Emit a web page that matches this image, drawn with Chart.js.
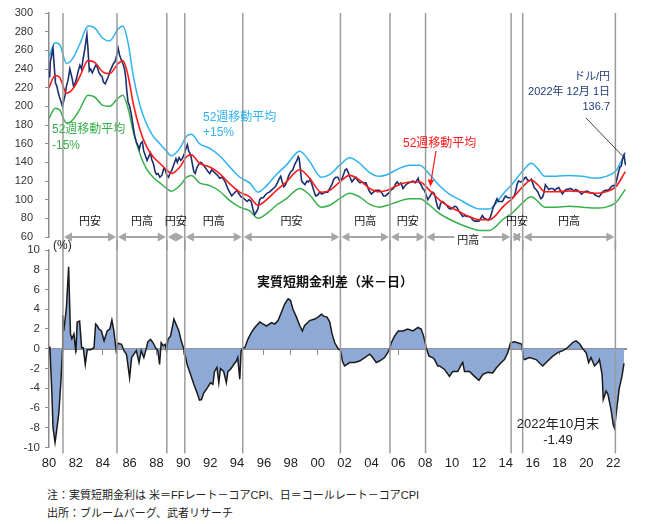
<!DOCTYPE html>
<html>
<head>
<meta charset="utf-8">
<script src="https://cdn.jsdelivr.net/npm/chart.js@4.4.0/dist/chart.umd.min.js"></script>
<style>
  body { margin: 0; background: #fff; }
  #wrap { position: relative; width: 651px; height: 524px; font-family: 'Liberation Sans', 'Noto Sans CJK JP', sans-serif; }
  canvas { position: absolute; left: 0; }
  .t { position: absolute; white-space: nowrap; }
</style>
</head>
<body>
<div id="wrap">
  <canvas id="fx" width="651" height="250" style="top:0"></canvas>
  <canvas id="diff" width="651" height="240" style="top:240px"></canvas>

  <div class="t" style="left:203px;top:110px;font-size:12px;line-height:15px;color:#2fb2ef">52週移動平均<br>+15%</div>
  <div class="t" style="left:52px;top:121px;font-size:12px;line-height:16px;color:#36b04a">52週移動平均<br>-15%</div>
  <div class="t" style="left:403px;top:135px;font-size:12px;line-height:16px;color:#ff1a1a">52週移動平均</div>
  <div class="t" style="right:41px;top:69px;font-size:11px;line-height:15px;color:#1f3b78;text-align:right">ドル/円<br>2022年 12月 1日<br>136.7</div>
  <div class="t" style="left:53px;top:238px;font-size:12px;line-height:14px;color:#222">(%)</div>
  <div class="t" style="left:235px;top:273px;width:200px;text-align:center;font-size:13px;line-height:17px;font-weight:bold;color:#111">実質短期金利差（米－日）</div>
  <div class="t" style="left:498px;top:416px;width:120px;text-align:center;font-size:13px;line-height:16px;color:#222">2022年10月末<br>-1.49</div>
  <div class="t" style="left:47px;top:486px;font-size:11px;line-height:18px;color:#222">注：実質短期金利は 米＝FFレート－コアCPI、日＝コールレート－コアCPI<br>出所：ブルームバーグ、武者リサーチ</div>
</div>

<script>
// ドル/円 (週次の読み取り値)
const spotYears = [
  1980.00, 1980.05, 1980.10, 1980.20, 1980.30, 1980.38, 1980.48, 1980.58, 1980.68, 1980.78, 1980.90,
  1981.00, 1981.08, 1981.20, 1981.30, 1981.42, 1981.55, 1981.62, 1981.72, 1981.82, 1981.95,
  1982.05, 1982.18, 1982.30, 1982.42, 1982.55, 1982.65, 1982.75, 1982.82, 1982.90,
  1983.00, 1983.10, 1983.22, 1983.35, 1983.48, 1983.60, 1983.72, 1983.85, 1983.95,
  1984.05, 1984.18, 1984.30, 1984.42, 1984.55, 1984.68, 1984.80, 1984.92,
  1985.05, 1985.15, 1985.25, 1985.38, 1985.50, 1985.62, 1985.72, 1985.78, 1985.88,
  1986.00, 1986.12, 1986.25, 1986.38, 1986.50, 1986.62, 1986.72, 1986.82, 1986.95,
  1987.05, 1987.18, 1987.30, 1987.42, 1987.55, 1987.65, 1987.78, 1987.90,
  1988.00, 1988.12, 1988.25, 1988.40, 1988.55, 1988.65, 1988.78, 1988.90,
  1989.00, 1989.15, 1989.30, 1989.45, 1989.55, 1989.68, 1989.80, 1989.92,
  1990.05, 1990.20, 1990.30, 1990.40, 1990.55, 1990.65, 1990.78, 1990.88,
  1991.00, 1991.15, 1991.30, 1991.45, 1991.55, 1991.70, 1991.85, 1991.97,
  1992.10, 1992.25, 1992.40, 1992.55, 1992.70, 1992.85,
  1993.00, 1993.15, 1993.30, 1993.45, 1993.60, 1993.72, 1993.85,
  1994.00, 1994.15, 1994.30, 1994.45, 1994.60, 1994.75, 1994.90,
  1995.05, 1995.18, 1995.30, 1995.40, 1995.55, 1995.68, 1995.80, 1995.95,
  1996.10, 1996.25, 1996.40, 1996.55, 1996.70, 1996.85,
  1997.00, 1997.12, 1997.25, 1997.38, 1997.48, 1997.60, 1997.72, 1997.85,
  1998.00, 1998.15, 1998.30, 1998.45, 1998.55, 1998.62, 1998.72, 1998.80, 1998.92,
  1999.05, 1999.20, 1999.32, 1999.45, 1999.58, 1999.70, 1999.85,
  2000.00, 2000.15, 2000.30, 2000.45, 2000.60, 2000.75, 2000.90,
  2001.05, 2001.20, 2001.35, 2001.50, 2001.65, 2001.80, 2001.95,
  2002.05, 2002.15, 2002.25, 2002.40, 2002.55, 2002.70, 2002.85,
  2003.00, 2003.15, 2003.30, 2003.45, 2003.60, 2003.70, 2003.85,
  2004.00, 2004.15, 2004.30, 2004.45, 2004.60, 2004.75, 2004.90,
  2005.05, 2005.20, 2005.35, 2005.50, 2005.65, 2005.80, 2005.92,
  2006.05, 2006.20, 2006.35, 2006.50, 2006.65, 2006.80, 2006.95,
  2007.10, 2007.25, 2007.40, 2007.48, 2007.58, 2007.70, 2007.82, 2007.95,
  2008.05, 2008.20, 2008.33, 2008.45, 2008.58, 2008.70, 2008.82, 2008.95,
  2009.05, 2009.15, 2009.30, 2009.45, 2009.60, 2009.75, 2009.90,
  2010.05, 2010.20, 2010.35, 2010.50, 2010.65, 2010.80, 2010.95,
  2011.10, 2011.25, 2011.40, 2011.55, 2011.70, 2011.85,
  2012.00, 2012.15, 2012.25, 2012.40, 2012.55, 2012.70, 2012.85, 2012.95,
  2013.08, 2013.20, 2013.35, 2013.45, 2013.60, 2013.75, 2013.90,
  2014.00, 2014.15, 2014.30, 2014.45, 2014.60, 2014.72, 2014.85, 2014.95,
  2015.10, 2015.25, 2015.40, 2015.50, 2015.62, 2015.75, 2015.90,
  2016.00, 2016.12, 2016.25, 2016.40, 2016.50, 2016.62, 2016.75, 2016.85, 2016.95,
  2017.05, 2017.20, 2017.35, 2017.50, 2017.65, 2017.80, 2017.95,
  2018.10, 2018.22, 2018.35, 2018.50, 2018.65, 2018.80, 2018.95,
  2019.05, 2019.20, 2019.35, 2019.50, 2019.65, 2019.80, 2019.95,
  2020.10, 2020.22, 2020.35, 2020.50, 2020.65, 2020.80, 2020.95,
  2021.10, 2021.25, 2021.40, 2021.55, 2021.70, 2021.85, 2021.98,
  2022.10, 2022.20, 2022.30, 2022.40, 2022.50, 2022.60, 2022.70, 2022.80, 2022.88, 2022.92
];
const spotRate = [
  238, 231, 248, 255, 262, 245, 225, 222, 215, 210, 205,
  200, 205, 212, 222, 228, 240, 236, 230, 222, 225,
  230, 238, 244, 240, 252, 260, 270, 277, 262,
  238, 240, 236, 240, 244, 242, 236, 233, 232,
  226, 224, 228, 232, 238, 242, 246, 248,
  255, 262, 255, 250, 246, 240, 230, 218, 205,
  200, 192, 180, 168, 162, 158, 154, 160, 162,
  152, 147, 142, 146, 150, 143, 138, 130,
  127, 128, 124, 126, 134, 132, 126, 124,
  128, 132, 138, 144, 140, 145, 142, 144,
  148, 155, 159, 152, 148, 140, 130, 128,
  134, 138, 140, 138, 136, 133, 130, 128,
  132, 130, 128, 126, 123, 124,
  122, 118, 112, 108, 104, 106, 108,
  110, 106, 103, 102, 100, 98, 100,
  98, 90, 84, 86, 90, 100, 102, 102,
  105, 107, 108, 110, 112, 114,
  118, 122, 125, 118, 114, 116, 120, 126,
  130, 132, 138, 142, 146, 144, 132, 120, 118,
  116, 120, 119, 122, 116, 110, 104,
  105, 108, 106, 107, 108, 108, 112,
  116, 122, 124, 124, 120, 122, 128,
  132, 133, 130, 124, 119, 122, 124,
  120, 118, 119, 118, 118, 114, 109,
  106, 108, 110, 110, 110, 108, 104,
  104, 106, 108, 111, 112, 117, 119,
  116, 118, 112, 115, 117, 118, 119,
  120, 118, 121, 123, 118, 116, 112, 110,
  106, 100, 103, 106, 108, 106, 98, 91,
  90, 96, 98, 96, 94, 91, 90,
  91, 93, 92, 88, 85, 82, 83,
  82, 82, 81, 78, 77, 77,
  77, 80, 83, 80, 79, 78, 81, 86,
  92, 96, 101, 98, 98, 98, 102,
  104, 102, 102, 102, 103, 108, 117, 120,
  119, 120, 123, 124, 121, 120, 122,
  118, 113, 111, 108, 104, 101, 103, 108, 116,
  114, 111, 112, 112, 110, 112, 113,
  109, 106, 109, 111, 111, 112, 111,
  109, 111, 110, 108, 106, 108, 109,
  109, 108, 107, 107, 105, 104, 103,
  106, 109, 110, 110, 111, 114, 115,
  115, 118, 124, 130, 135, 136, 144, 148, 140, 137
];

// 52週移動平均と±15%バンド
const maYears = [
  1980.00, 1980.45, 1980.80, 1981.30, 1981.80, 1982.30, 1982.90, 1983.40, 1984.00, 1984.50,
  1985.15, 1985.50, 1985.90, 1986.27, 1986.77, 1987.26, 1987.75, 1988.25, 1988.75, 1989.10,
  1989.74, 1990.24, 1990.60, 1991.20, 1991.97, 1992.70, 1993.46, 1994.20, 1994.94, 1995.56,
  1996.20, 1996.93, 1997.67, 1998.66, 1999.40, 2000.27, 2000.90, 2001.64, 2002.38, 2003.12,
  2003.87, 2004.60, 2005.20, 2006.00, 2006.84, 2007.60, 2008.33, 2009.07, 2009.80, 2010.56,
  2011.30, 2012.04, 2012.80, 2013.16, 2013.80, 2014.50, 2015.27, 2015.90, 2016.40, 2016.90,
  2017.75, 2018.70, 2019.70, 2020.70, 2021.46, 2022.20, 2022.90
];
const maRate = [
  220, 233, 231, 214, 219, 232, 249, 247, 237, 235,
  246, 249, 232, 203, 175, 157, 146, 139, 132, 128,
  135, 146, 148, 139, 135, 128, 117, 108, 103, 94,
  100, 110, 119, 132, 123, 108, 110, 119, 126, 121,
  112, 108.5, 110, 115.7, 119, 119, 110, 99.6, 92.5, 87,
  81.8, 78.5, 78.6, 81.8, 92.5, 101.4, 114, 121, 115.7, 108.5,
  108.5, 109.3, 108.5, 106.8, 108.5, 114, 130
];
const maUpper = [
  253, 268, 266, 246, 252, 267, 286, 284, 273, 270,
  283, 286, 267, 233, 201, 181, 168, 160, 152, 147,
  155, 168, 170, 160, 155, 147, 135, 124, 118, 108,
  115, 127, 137, 152, 141, 124, 127, 137, 145, 139,
  129, 125, 127, 133, 137, 137, 127, 115, 106, 100,
  94, 90, 90, 94, 106, 117, 131, 139, 133, 125,
  125, 126, 125, 123, 125, 131, 150
];
const maLower = [
  187, 198, 196, 182, 186, 197, 212, 210, 201, 200,
  209, 212, 197, 173, 149, 133, 124, 118, 112, 109,
  115, 124, 126, 118, 115, 109, 99, 92, 88, 80,
  85, 94, 101, 112, 105, 92, 94, 101, 107, 103,
  95, 92, 94, 98, 101, 101, 94, 85, 79, 74,
  70, 67, 67, 70, 79, 86, 97, 103, 98, 92,
  92, 93, 92, 91, 92, 97, 111
];

// 実質短期金利差 (米－日, %)
const diffYears = [
  1980.00, 1980.07, 1980.12, 1980.20, 1980.30, 1980.45, 1980.55, 1980.74, 1980.90,
  1981.00, 1981.02, 1981.10, 1981.30, 1981.46, 1981.60, 1981.70, 1981.86,
  1982.00, 1982.10, 1982.28, 1982.43, 1982.55, 1982.70, 1982.85,
  1983.10, 1983.35, 1983.47, 1983.60, 1983.72, 1983.90,
  1984.10, 1984.33, 1984.53, 1984.68, 1984.83,
  1985.00, 1985.13, 1985.40, 1985.58, 1985.77,
  1986.00, 1986.15, 1986.32, 1986.50, 1986.70, 1986.86,
  1987.06, 1987.20, 1987.36, 1987.56, 1987.75, 1987.93,
  1988.10, 1988.23, 1988.35, 1988.50, 1988.65, 1988.75, 1988.85,
  1989.05, 1989.30, 1989.45, 1989.67, 1989.84,
  1990.04, 1990.28, 1990.53, 1990.78,
  1991.03, 1991.20, 1991.35, 1991.52, 1991.77,
  1992.02, 1992.20, 1992.32, 1992.50, 1992.64, 1992.76,
  1993.00, 1993.20, 1993.32, 1993.50, 1993.75, 1993.95,
  1994.05, 1994.20, 1994.30, 1994.45, 1994.57, 1994.82,
  1995.07, 1995.32, 1995.69, 1995.95,
  1996.19, 1996.56, 1996.80,
  1997.05, 1997.30, 1997.55, 1997.80, 1997.97,
  1998.16, 1998.42, 1998.66, 1998.86,
  1999.03, 1999.40, 1999.78,
  2000.02, 2000.28, 2000.45, 2000.70, 2000.90,
  2001.07, 2001.27, 2001.50, 2001.70, 2001.85,
  2002.00, 2002.38, 2002.75,
  2003.12, 2003.50, 2003.87,
  2004.10, 2004.36, 2004.60, 2004.98,
  2005.30, 2005.48, 2005.73,
  2006.00, 2006.35, 2006.70,
  2007.10, 2007.46, 2007.70, 2007.88,
  2008.08, 2008.28, 2008.55, 2008.70, 2008.94,
  2009.07, 2009.44, 2009.81,
  2010.06, 2010.43, 2010.70, 2010.80, 2010.93,
  2011.30, 2011.67,
  2012.00, 2012.30, 2012.67,
  2013.03, 2013.29, 2013.66, 2013.90,
  2014.15, 2014.35, 2014.65,
  2015.00, 2015.20, 2015.30, 2015.40, 2015.76,
  2016.26, 2016.75,
  2017.12, 2017.50, 2017.87,
  2018.24, 2018.50, 2018.74,
  2019.00, 2019.23, 2019.50, 2019.73, 2019.98,
  2020.17, 2020.35, 2020.60, 2020.85, 2020.97,
  2021.17, 2021.26, 2021.47, 2021.60, 2021.84,
  2022.00, 2022.10, 2022.25, 2022.45, 2022.65, 2022.80
];
const diffRate = [
  0.2, 0.1, -1.6, -4.0, -8.0, -9.5, -8.5, -6.4, -3.0,
  -0.2, 3.4, 1.8, 4.2, 8.3, 1.5, 1.0, 1.5,
  -0.4, 2.7, 2.8, 0.1, 0.1, -1.6, -0.1,
  -0.1, 0.1, 2.5, 2.3, 2.0, 1.8,
  0.8, 1.8, 2.0, 2.9, 1.8,
  -0.2, 0.55, 0.45, -0.2, -0.6,
  -2.95, -0.9, -0.55, -0.2, -1.4, -0.2,
  -0.9, -0.2, 0.7, 0.95, 0.6, 0.1,
  -0.2, -1.6, 0.6, 0.3, 0.45, -0.2, 0.95,
  1.3, 3.0, 2.5, 1.8, 0.8,
  -0.05, -1.6, -2.6, -3.6,
  -4.5, -5.2, -5.15, -4.5, -4.0,
  -3.45, -3.6, -2.3, -1.9, -3.45, -2.0,
  -2.3, -3.45, -2.3, -2.1, -1.6, -1.25,
  -0.9, -3.1, -0.2, 0.1, 0.1, 1.0,
  1.65, 2.15, 2.7, 2.5,
  2.3, 2.65, 2.5,
  2.85, 3.7, 4.55, 5.05, 4.9,
  4.0, 3.2, 2.35, 1.8,
  2.35, 2.85, 3.0,
  3.2, 3.5, 3.3, 3.2, 2.7,
  1.5, 0.6, 0.05, -0.2, -1.3,
  -1.75, -1.4, -1.4,
  -1.25, -0.9, -0.55,
  -0.9, -1.4, -1.25, -0.9,
  -0.2, 0.6, 1.3,
  1.8, 1.8, 2.0,
  1.8, 2.15, 2.0, 1.3,
  0.1, -0.75, -0.9, -1.1, -1.75,
  -1.75, -2.1, -2.8,
  -2.3, -2.3, -1.6, -1.4, -2.3,
  -2.3, -2.8,
  -3.2, -2.6, -2.4,
  -2.45, -1.95, -1.4, -1.1,
  -0.4, 0.6, 0.7,
  0.55, 0.45, -1.0, -1.1, -0.9,
  -1.1, -1.75,
  -1.25, -0.75, -0.4,
  -0.2, 0.0, 0.3,
  0.65, 0.8, 0.5, 0.0, -0.4,
  -1.4, -0.9, -1.75, -1.4, -1.1,
  -2.6, -5.15, -4.3, -4.6, -6.2,
  -7.7, -8.05, -6.2, -4.0, -2.8, -1.49
];

// 円安・円高の局面
const regimeDates = [1981.04, 1985.06, 1988.77, 1990.11, 1994.42, 2001.69, 2005.38, 2008.03, 2014.40, 2015.26, 2022.16];
const regimeLabels = ['円安', '円高', '円安', '円高', '円安', '円高', '円安', '円高', '円安', '円高'];

const X_MIN = 1980;
const X_MAX = 2022.95;
const FONT = "'Liberation Sans', 'Noto Sans CJK JP', sans-serif";

Chart.defaults.font.family = FONT;
Chart.defaults.color = '#222';

function toPoints(xs, ys) {
    return xs.map((x, i) => ({ x: x, y: ys[i] }));
}

function arrowHead(ctx, x, y, dir, len, half) {
    ctx.beginPath();
    ctx.moveTo(x, y);
    ctx.lineTo(x + dir * len, y - half);
    ctx.lineTo(x + dir * len, y + half);
    ctx.closePath();
    ctx.fill();
}

const regimePlugin = {
    id: 'regimes',
    afterDatasetsDraw(chart, args, opts) {
        const ctx = chart.ctx;
        const area = chart.chartArea;
        const xs = chart.scales.x;
        ctx.save();

        // vertical lines at regime changes
        ctx.strokeStyle = '#9c9c9c';
        ctx.lineWidth = 1.5;
        const y1 = opts.upper ? area.top : 0;
        const y2 = opts.upper ? chart.height : area.bottom + 6;
        regimeDates.forEach(d => {
            const x = xs.getPixelForValue(d);
            ctx.beginPath();
            ctx.moveTo(x, y1);
            ctx.lineTo(x, y2);
            ctx.stroke();
        });

        if (opts.upper) {
            const ys = chart.scales.y;
            const y = ys.getPixelForValue(60);
            ctx.strokeStyle = '#a6a6a6';
            ctx.fillStyle = '#a6a6a6';
            ctx.lineWidth = 2;
            for (let i = 0; i < regimeDates.length - 1; i++) {
                const xa = xs.getPixelForValue(regimeDates[i]) + 1;
                const xb = xs.getPixelForValue(regimeDates[i + 1]) - 1;
                ctx.beginPath();
                ctx.moveTo(xa + 4, y);
                ctx.lineTo(xb - 4, y);
                ctx.stroke();
                arrowHead(ctx, xa, y, 1, 8, 4.5);
                arrowHead(ctx, xb, y, -1, 8, 4.5);
            }
            ctx.font = "11px 'Noto Sans CJK JP'";
            ctx.textAlign = 'center';
            ctx.textBaseline = 'middle';
            for (let i = 0; i < regimeLabels.length; i++) {
                const cx = (xs.getPixelForValue(regimeDates[i]) + xs.getPixelForValue(regimeDates[i + 1])) / 2;
                let ly = y - 16;
                if (i == 7) {
                    ly = y + 3;
                    const w = ctx.measureText(regimeLabels[i]).width;
                    ctx.fillStyle = '#fff';
                    ctx.fillRect(cx - w / 2 - 3, ly - 7, w + 6, 14);
                }
                ctx.fillStyle = '#111';
                ctx.fillText(regimeLabels[i], cx, ly);
            }

            // leader to the latest rate
            ctx.strokeStyle = '#404040';
            ctx.lineWidth = 1;
            ctx.beginPath();
            ctx.moveTo(586, 118);
            ctx.lineTo(xs.getPixelForValue(2022.75), ys.getPixelForValue(146));
            ctx.stroke();

            // red arrow to the moving average
            const ex = xs.getPixelForValue(2008.4);
            const ey = ys.getPixelForValue(114);
            ctx.strokeStyle = '#ff1a1a';
            ctx.fillStyle = '#ff1a1a';
            ctx.lineWidth = 1.2;
            ctx.beginPath();
            ctx.moveTo(436, 151);
            ctx.lineTo(ex + 0.6, ey - 6);
            ctx.stroke();
            ctx.beginPath();
            ctx.moveTo(ex, ey);
            ctx.lineTo(ex - 3, ey - 7);
            ctx.lineTo(ex + 3.5, ey - 6.5);
            ctx.closePath();
            ctx.fill();
        }
        ctx.restore();
    }
};

// fixed axis width, and no extra room for the end labels
function yAxisFit(scale) {
    scale.width = 49;
    scale.paddingTop = 0;
    scale.paddingBottom = 0;
}

new Chart(document.getElementById('fx'), {
    type: 'line',
    data: {
        datasets: [{
            label: '52週移動平均',
            data: toPoints(maYears, maRate),
            borderColor: '#ff1a1a',
            borderWidth: 1.6,
            cubicInterpolationMode: 'monotone'
        },
        {
            label: 'ドル/円',
            data: toPoints(spotYears, spotRate),
            borderColor: '#1c2f6e',
            borderWidth: 1.6,
            tension: 0
        },
        {
            label: '+15%',
            data: toPoints(maYears, maUpper),
            borderColor: '#2fb2ef',
            borderWidth: 1.5,
            cubicInterpolationMode: 'monotone'
        },
        {
            label: '-15%',
            data: toPoints(maYears, maLower),
            borderColor: '#36b04a',
            borderWidth: 1.5,
            cubicInterpolationMode: 'monotone'
        }]
    },
    options: {
        responsive: false,
        animation: false,
        events: [],
        elements: { point: { radius: 0 } },
        layout: { padding: { top: 13, bottom: 13, left: 0, right: 25 } },
        scales: {
            x: { type: 'linear', min: X_MIN, max: X_MAX, display: false },
            y: {
                min: 60,
                max: 300,
                afterFit: yAxisFit,
                grid: { drawOnChartArea: false, tickLength: 4, color: '#8c8c8c' },
                border: { color: '#8c8c8c', width: 1.5 },
                ticks: { stepSize: 20, padding: 12, font: { size: 11 }, color: '#333' }
            }
        },
        plugins: {
            legend: { display: false },
            tooltip: { enabled: false },
            regimes: { upper: true }
        }
    },
    plugins: [regimePlugin]
});

new Chart(document.getElementById('diff'), {
    type: 'line',
    data: {
        datasets: [{
            label: '実質短期金利差（米－日）',
            data: toPoints(diffYears, diffRate),
            borderColor: '#1a1a1a',
            borderWidth: 1.5,
            backgroundColor: '#8ea9d5',
            fill: 'origin',
            tension: 0
        }]
    },
    options: {
        responsive: false,
        animation: false,
        events: [],
        elements: { point: { radius: 0 } },
        layout: { padding: { top: 10, bottom: 1, left: 0, right: 25 } },
        scales: {
            x: {
                type: 'linear',
                min: X_MIN,
                max: X_MAX,
                grid: { display: false, drawTicks: false },
                border: { display: false },
                ticks: {
                    stepSize: 2,
                    includeBounds: false,
                    padding: 8,
                    maxRotation: 0,
                    autoSkip: false,
                    font: { size: 13 },
                    color: '#222',
                    callback: v => String(v % 100).padStart(2, '0')
                }
            },
            x0: {
                type: 'linear',
                axis: 'x',
                min: X_MIN,
                max: X_MAX,
                position: { y: 0 },
                grid: { drawOnChartArea: false, tickLength: 5, color: '#8c8c8c' },
                border: { color: '#8c8c8c', width: 2 },
                ticks: { display: false, stepSize: 2, includeBounds: false }
            },
            y: {
                min: -10,
                max: 10,
                afterFit: yAxisFit,
                grid: { drawOnChartArea: false, tickLength: 4, color: '#8c8c8c' },
                border: { color: '#8c8c8c', width: 1.5 },
                ticks: { stepSize: 2, padding: 5, font: { size: 11.5 }, color: '#333' }
            }
        },
        plugins: {
            legend: { display: false },
            tooltip: { enabled: false },
            regimes: { upper: false }
        }
    },
    plugins: [regimePlugin]
});
</script>
</body>
</html>
